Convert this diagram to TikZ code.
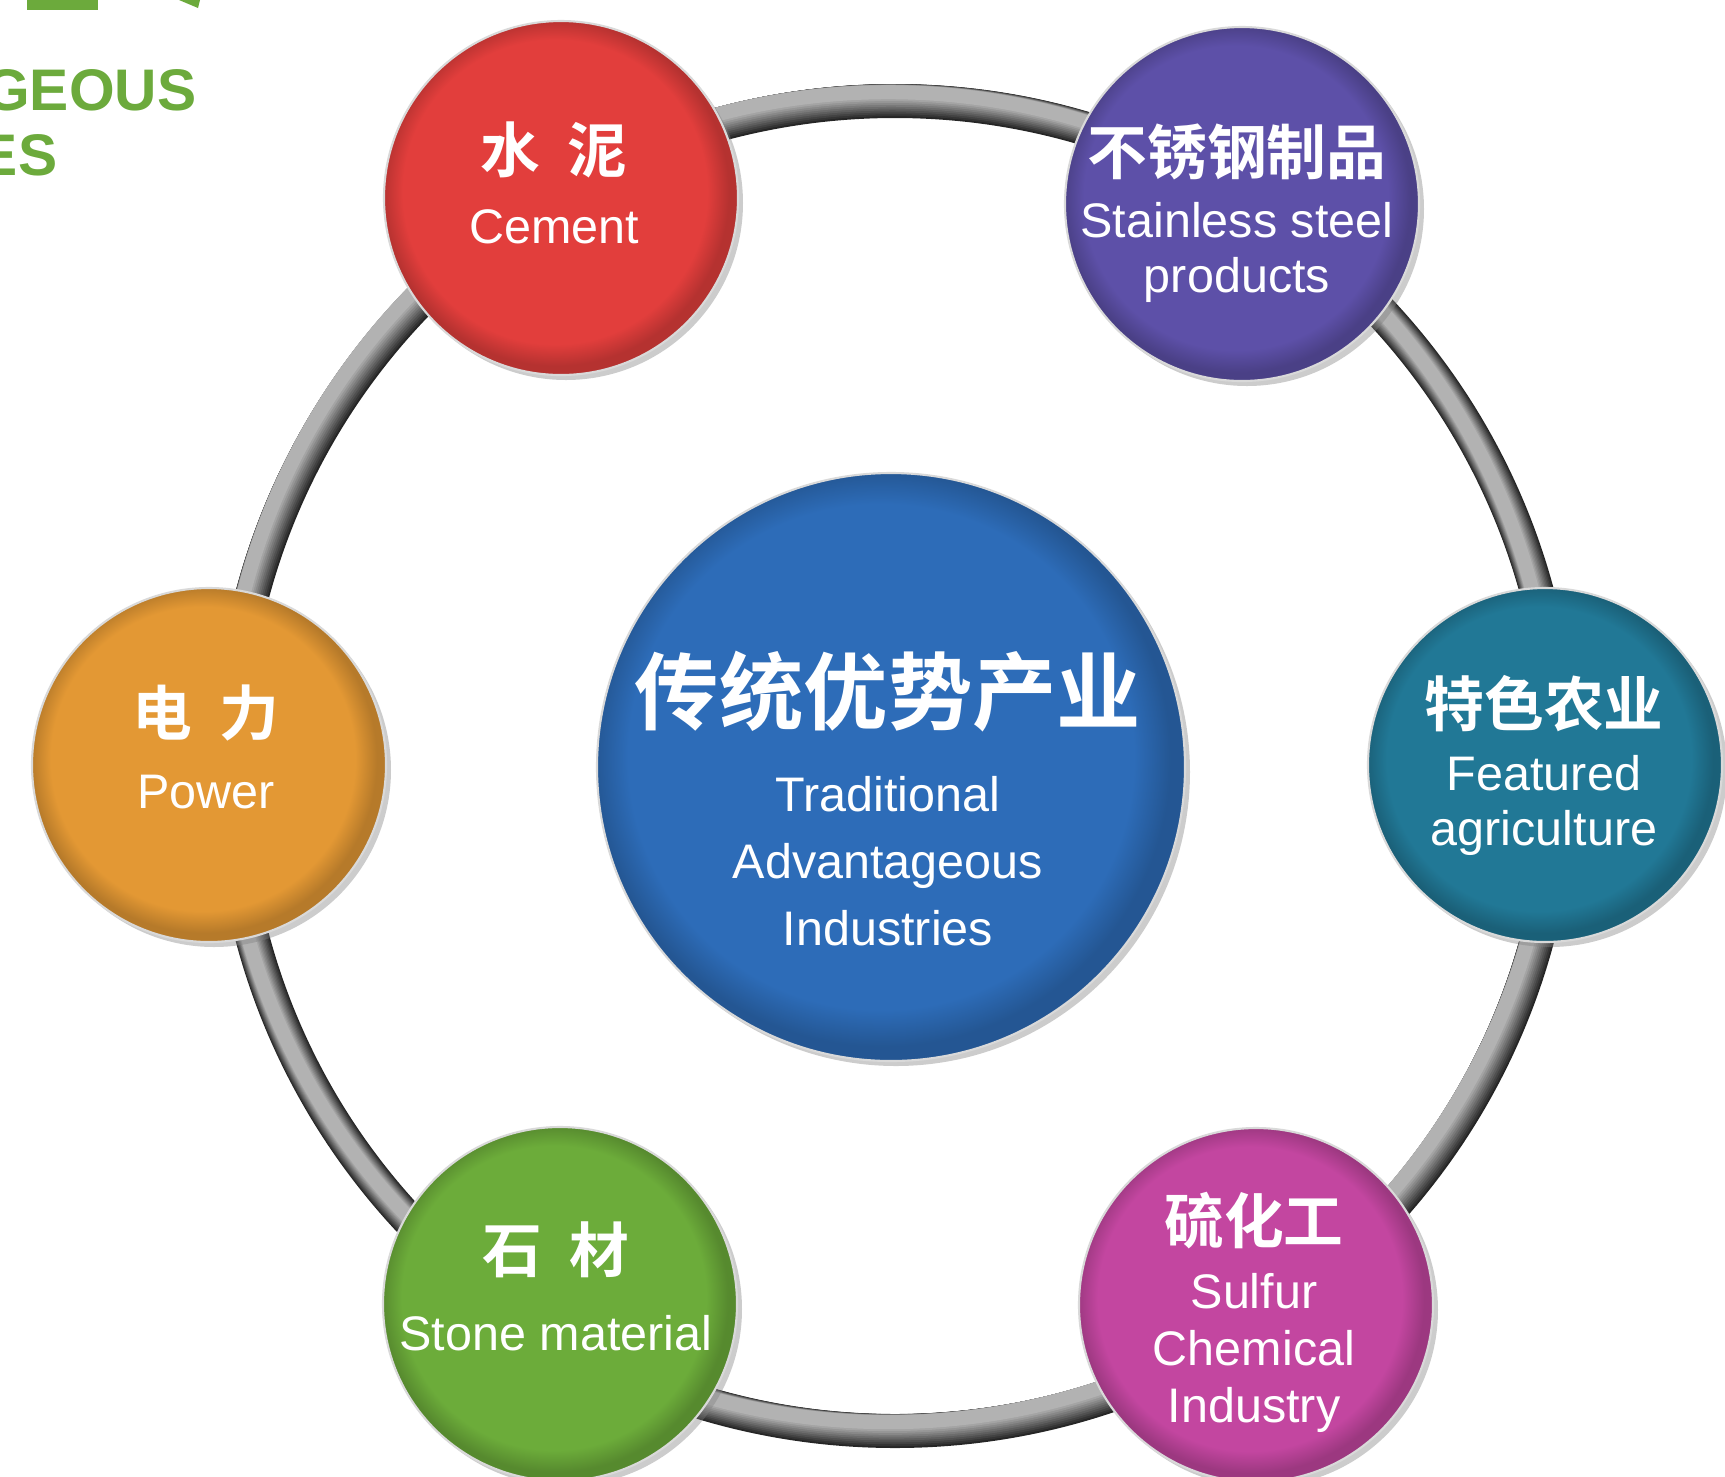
\documentclass[tikz,border=0pt]{standalone}
\usepackage{fontspec}
\setmainfont{Liberation Sans}
\newfontfamily\cjk{Noto Sans CJK SC}[BoldFont={Noto Sans CJK SC Bold}]
\usetikzlibrary{shadows}

\definecolor{cementred}{HTML}{E23E3C}
\definecolor{steelpurple}{HTML}{5D50A8}
\definecolor{powerorange}{HTML}{E39834}
\definecolor{agriteal}{HTML}{217896}
\definecolor{stonegreen}{HTML}{6CAC3A}
\definecolor{sulfurpink}{HTML}{C346A0}
\definecolor{coreblue}{HTML}{2D6CB8}
\definecolor{titlegreen}{HTML}{6CAA3C}

% flat disc with a darker rim towards the lower right
\pgfdeclareradialshading[discbase]{discshade}{\pgfpoint{-1.5bp}{1.5bp}}{%
  color(0bp)=(discbase); color(21.5bp)=(discbase);
  color(24.5bp)=(discbase!80!black); color(50bp)=(discbase!80!black)}

\newcommand{\zhname}[1]{{\cjk\bfseries\fontsize{17}{17}\selectfont #1}}
\newcommand{\zhcore}[1]{{\cjk\bfseries\fontsize{24}{24}\selectfont #1}}

\tikzset{
  industry/.style={circle, minimum size=3.54cm, inner sep=0pt,
    /utils/exec={\colorlet{discbase}{#1}}, shade, shading=discshade,
    draw=white!85!black, line width=0.6pt,
    drop shadow={shadow xshift=0.05cm, shadow yshift=-0.05cm, opacity=0.4}},
  caption/.style={text=white, align=center, inner sep=0pt, anchor=north,
    font=\fontsize{13.8}{15.6}\selectfont},
  title/.style={text=titlegreen, inner sep=0pt,
    font=\bfseries\fontsize{16.7}{20}\selectfont},
}

\begin{document}
\begin{tikzpicture}
  \useasboundingbox (0,0) rectangle (17.25,-14.77);

  % corner of the heading
  \fill[titlegreen] (0.27,0) rectangle (0.98,-0.10);
  \fill[titlegreen] (1.79,0) -- (2.00,0) -- (1.98,-0.08) -- cycle;
  \node[title, anchor=base east] (headA) at (1.97,-1.10) {GEOUS};
  \node[title, anchor=base east] (headB) at (0.58,-1.75) {ES};

  % the ring, lit from the upper left
  \foreach \i [evaluate=\i as \w using 0.34-0.02*\i,
               evaluate=\i as \g using 85-5.5*\i] in {0,...,10}
    \draw[line width=\w cm, color=black!\g] ({8.95-0.0066*\i},{-7.66+0.0088*\i}) circle (6.65);

  % discs
  \node[industry=coreblue, minimum size=5.88cm] (core) at (8.91,-7.67) {};
  \node[industry=cementred] (cement) at (5.61,-1.98) {};
  \node[industry=steelpurple] (steel) at (12.42,-2.04) {};
  \node[industry=powerorange] (power) at (2.09,-7.65) {};
  \node[industry=agriteal] (agri) at (15.45,-7.65) {};
  \node[industry=stonegreen] (stone) at (5.60,-13.04) {};
  \node[industry=sulfurpink] (sulfur) at (12.56,-13.05) {};

  % texts
  \node[caption, font=\fontsize{13.8}{19.1}\selectfont] (coretxt) at (8.88,-6.50)
    {\zhcore{传统优势产业}\\[6pt] Traditional\\ Advantageous\\ Industries};
  \node[caption] (cementtxt) at (5.54,-1.21) {\zhname{水\hspace{0.45em}泥}\\[4.5pt] Cement};
  \node[caption] (steeltxt) at (12.37,-1.23) {\zhname{不锈钢制品}\\[2.3pt] Stainless steel\\ products};
  \node[caption] (powertxt) at (2.06,-6.84) {\zhname{电\hspace{0.45em}力}\\[5.3pt] Power};
  \node[caption] (agritxt) at (15.44,-6.75) {\zhname{特色农业}\\[2.6pt] Featured\\ agriculture};
  \node[caption] (stonetxt) at (5.56,-12.21) {\zhname{石\hspace{0.45em}材}\\[6.5pt] Stone material};
  \node[caption, font=\fontsize{13.8}{16.3}\selectfont] (sulfurtxt) at (12.54,-11.91)
    {\zhname{硫化工}\\[2.2pt] Sulfur\\ Chemical\\ Industry};
\end{tikzpicture}
\end{document}
